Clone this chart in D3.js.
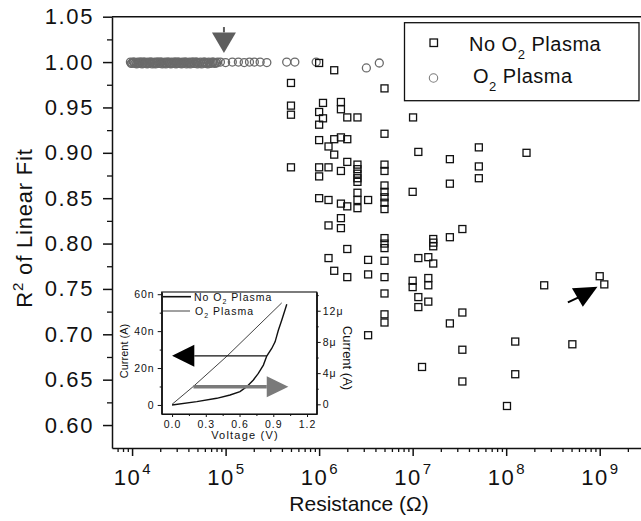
<!DOCTYPE html>
<html>
<head>
<meta charset="utf-8">
<script src="https://cdn.jsdelivr.net/npm/d3@7"></script>
<style>
body { margin:0; background:#fff; }
svg text { font-family: "Liberation Sans", Arial, sans-serif; fill:#111; }
</style>
</head>
<body>
<div class="container"></div>
<script>
// ---- main scatter data: [resistance (ohm), R^2 of linear fit]
var noPlasma = [
  [5e5,0.977],[5e5,0.952],[5e5,0.942],[5e5,0.884],
  [1e6,0.999],[1e6,0.945],[1e6,0.931],[1e6,0.914],[1e6,0.884],[1e6,0.874],[1e6,0.850],
  [1.1e6,0.955],[1.1e6,0.938],
  [1.26e6,0.907],[1.26e6,0.884],[1.26e6,0.848],[1.26e6,0.820],[1.26e6,0.784],
  [1.45e6,0.991],[1.45e6,0.915],[1.45e6,0.898],[1.45e6,0.770],
  [1.71e6,0.956],[1.71e6,0.948],[1.71e6,0.917],[1.71e6,0.880],[1.71e6,0.844],[1.71e6,0.828],[1.71e6,0.817],
  [2e6,0.939],[2e6,0.915],[2e6,0.890],[2e6,0.841],[2e6,0.794],[2e6,0.763],
  [2.57e6,0.939],[2.57e6,0.887],[2.57e6,0.882],[2.57e6,0.877],[2.57e6,0.872],[2.57e6,0.868],[2.57e6,0.856],[2.57e6,0.848],[2.57e6,0.839],
  [3.34e6,0.848],[3.34e6,0.782],[3.34e6,0.766],[3.34e6,0.699],
  [5e6,0.971],[5e6,0.921],[5e6,0.887],[5e6,0.880],[5e6,0.864],[5e6,0.857],[5e6,0.851],[5e6,0.845],[5e6,0.838],
  [5e6,0.806],[5e6,0.800],[5e6,0.795],[5e6,0.781],[5e6,0.763],[5e6,0.745],[5e6,0.722],[5e6,0.713],
  [1.01e7,0.939],[1.15e7,0.901],[2.5e7,0.893],[5.1e7,0.906],[1.65e8,0.900],[5.1e7,0.885],[5.1e7,0.872],
  [2.5e7,0.866],[1e7,0.857],[3.4e7,0.816],[2.5e7,0.807],[1.66e7,0.805],[1.66e7,0.801],[1.66e7,0.797],
  [1.15e7,0.784],[1.47e7,0.785],[1.66e7,0.778],[1e7,0.759],[1e7,0.752],[1.47e7,0.762],[1.47e7,0.754],
  [1.15e7,0.741],[1.15e7,0.730],[1.47e7,0.736],[2.55e8,0.754],[1e9,0.764],[1.12e9,0.755],[3.4e7,0.724],
  [2.5e7,0.712],[1.25e8,0.692],[5.1e8,0.689],[3.4e7,0.683],[1.26e7,0.664],[1.25e8,0.656],[3.4e7,0.648],
  [1.02e8,0.621]
];
var withPlasma = [
  [9.6e3,1.0],[9.8e3,0.9985],[1.0e4,0.999],[1.03e4,1.0],[1.05e4,1.0],[1.07e4,0.9985],[1.1e4,0.9995],
  [1.12e4,0.998],[1.15e4,1.0],[1.17e4,0.9985],[1.2e4,0.999],[1.22e4,1.0],[1.25e4,1.0],[1.28e4,0.998],
  [1.3e4,0.9985],[1.33e4,1.0],[1.36e4,1.0],[1.39e4,0.9985],[1.42e4,0.9995],[1.45e4,0.998],[1.48e4,1.0],
  [1.52e4,0.9985],[1.55e4,0.999],[1.58e4,1.0],[1.6e4,1.0],[1.64e4,0.998],[1.68e4,0.9995],[1.72e4,0.9985],
  [1.75e4,1.0],[1.78e4,0.998],[1.82e4,0.999],[1.86e4,1.0],[1.9e4,1.0],[1.94e4,0.9985],[1.98e4,0.9985],
  [2.02e4,1.0],[2.05e4,1.0],[2.1e4,0.998],[2.15e4,0.9995],[2.2e4,0.9985],[2.25e4,1.0],[2.3e4,0.998],
  [2.35e4,0.999],[2.4e4,1.0],[2.45e4,1.0],[2.5e4,0.9985],[2.55e4,0.9995],[2.6e4,0.998],[2.65e4,1.0],
  [2.72e4,0.9985],[2.8e4,0.999],[2.85e4,1.0],[2.9e4,1.0],[2.95e4,0.998],[3.0e4,0.9985],[3.08e4,1.0],
  [3.15e4,1.0],[3.22e4,0.9985],[3.3e4,0.9995],[3.38e4,0.998],[3.45e4,1.0],[3.52e4,0.9985],[3.6e4,0.999],
  [3.68e4,1.0],[3.75e4,1.0],[3.82e4,0.998],[3.9e4,0.9995],[4.0e4,0.9985],[4.1e4,1.0],[4.2e4,0.998],
  [4.3e4,0.999],[4.4e4,1.0],[4.5e4,1.0],[4.6e4,0.9985],[4.7e4,0.9985],[4.8e4,1.0],[4.9e4,1.0],
  [5.0e4,0.998],[5.1e4,0.9995],[5.25e4,0.9985],[5.4e4,1.0],[5.55e4,0.998],[5.7e4,0.999],[5.85e4,1.0],
  [6.0e4,1.0],[6.15e4,0.9985],[6.3e4,0.9995],[6.45e4,0.998],[6.6e4,1.0],[6.8e4,0.9985],[7.0e4,0.999],
  [7.2e4,1.0],[7.4e4,1.0],[7.6e4,0.9985],[7.8e4,0.9995],[8.0e4,0.999],[8.2e4,1.0],
  [8.8e4,1.0],[1.0e5,0.9995],[1.18e5,1.0],[1.37e5,1.0],[1.58e5,0.9995],[1.8e5,1.0],[2.03e5,1.0],
  [2.34e5,1.0],[2.76e5,0.9995],[4.5e5,1.0],[5.5e5,1.0],[9.3e5,1.0],[3.2e6,0.9935],[4.4e6,0.999]
];
var yTicks = [0.60,0.65,0.70,0.75,0.80,0.85,0.90,0.95,1.00,1.05];
var yMinor = [0.625,0.675,0.725,0.775,0.825,0.875,0.925,0.975,1.025];
var xTickExp = [4,5,6,7,8,9];

// annotation arrows (data units)
var grayArrow = {res:9.6e4, top:1.0386, base:1.0327, tip:1.0099};
var blackArrowHead = [[5.05e8,0.7507],[9.47e8,0.7524],[6.6e8,0.7304]];
var blackArrowTail = [[4.57e8,0.7352],[5.94e8,0.7407]];

// ---- inset data: I-V curves
var noPlasmaIV = [[0,0],[0.22,1.8],[0.397,3.6],[0.516,5.4],[0.604,7.2],[0.664,9.9],[0.723,13.5],
  [0.767,17.1],[0.812,21.6],[0.842,26.5],[0.886,30.6],[0.916,34.2],[0.945,40.5],[0.975,45.9],
  [1.004,51.4],[1.02,54.6]];          // volts, nA (left axis)
var plasmaIV = [[0,0],[0.19,2.3],[0.49,6.2],[0.975,13.0]];   // volts, uA (right axis)
var insetXTicks = [0,0.3,0.6,0.9,1.2];
var insetLeftTicks = [0,20,40,60];
var insetLeftLabels = ["0","20n","40n","60n"];
var insetRightTicks = [0,4,8,12];
var insetRightLabels = ["0","4\u03bc","8\u03bc","12\u03bc"];

//Makes the stage
function makeStage(w, h) {
  return d3.select(".container").append("svg").attr("width", w).attr("height", h);
}

var stage = makeStage(641, 521);

var x = d3.scaleLog().domain([6100, 3.05e9]).range([112, 645]);
var y = d3.scaleLinear().domain([0.5747, 1.05]).range([448, 16.7]);

function styleAxis(g, width) {
  g.attr("font-family", null).attr("font-size", null);
  g.selectAll("path,line").attr("stroke", "#111").attr("stroke-width", width);
}

//draw main axes
function drawAxes() {
  var left = stage.append("g").attr("transform", "translate(112,0)")
    .call(d3.axisLeft(y).tickValues(yTicks).tickSize(9).tickSizeOuter(0).tickPadding(9)
      .tickFormat(d3.format(".2f")));
  styleAxis(left, 1.5);
  left.selectAll("text").style("font-size", "22px").attr("letter-spacing", 1.6);
  var leftMinor = stage.append("g").attr("transform", "translate(112,0)")
    .call(d3.axisLeft(y).tickValues(yMinor).tickSize(5).tickSizeOuter(0).tickFormat(""));
  styleAxis(leftMinor, 1.3);
  leftMinor.select(".domain").remove();

  var minors = [];
  for (var e = 3; e <= 9; e++) {
    for (var m = 2; m <= 9; m++) {
      var v = m * Math.pow(10, e);
      if (v > 6100 && v < 3.05e9) minors.push(v);
    }
  }
  var bottom = stage.append("g").attr("transform", "translate(0,448)")
    .call(d3.axisBottom(x).tickValues(xTickExp.map(function(d){ return Math.pow(10, d); }))
      .tickSize(8).tickSizeOuter(0).tickFormat(""));
  styleAxis(bottom, 1.5);
  var bottomMinor = stage.append("g").attr("transform", "translate(0,448)")
    .call(d3.axisBottom(x).tickValues(minors).tickSize(4).tickSizeOuter(0).tickFormat(""));
  styleAxis(bottomMinor, 1.3);
  bottomMinor.select(".domain").remove();

  // top frame
  stage.append("line")
    .attr("x1", x(6100)).attr("x2", x(3.05e9))
    .attr("y1", y(1.05)).attr("y2", y(1.05))
    .attr("stroke", "#111").attr("stroke-width", 1.5);

  // decade labels 10^n
  var labs = stage.selectAll(".xlab").data(xTickExp).enter().append("text")
    .attr("class", "xlab")
    .attr("x", function(d){ return x(Math.pow(10, d)); })
    .attr("y", 485)
    .attr("text-anchor", "middle");
  labs.append("tspan").style("font-size", "22px").attr("letter-spacing", 1.5).text("10");
  labs.append("tspan").style("font-size", "15px").attr("dy", -11).attr("dx", 1)
    .text(function(d){ return d; });

  stage.append("text").attr("x", 359).attr("y", 511).attr("text-anchor", "middle")
    .style("font-size", "21px").text("Resistance (\u03a9)");

  var yt = stage.append("text").attr("transform", "translate(32,228) rotate(-90)")
    .attr("text-anchor", "middle").style("font-size", "22px").attr("letter-spacing", 0.8);
  yt.append("tspan").text("R");
  yt.append("tspan").style("font-size", "15px").attr("dy", -9).text("2");
  yt.append("tspan").attr("dy", 9).text(" of Linear Fit");
}

//draw the scatter points
function drawPoints() {
  stage.selectAll(".plasma").data(withPlasma).enter().append("circle")
    .attr("class", "plasma")
    .attr("cx", function(d){ return x(d[0]); })
    .attr("cy", function(d){ return y(d[1]); })
    .attr("r", 4)
    .attr("fill", "none").attr("stroke", "#6a6a6a").attr("stroke-width", 1.3);

  stage.selectAll(".noplasma").data(noPlasma).enter().append("rect")
    .attr("class", "noplasma")
    .attr("x", function(d){ return x(d[0]) - 3.5; })
    .attr("y", function(d){ return y(d[1]) - 3.5; })
    .attr("width", 7).attr("height", 7)
    .attr("fill", "none").attr("stroke", "#111").attr("stroke-width", 1.3);
}

function drawArrows() {
  var ax = x(grayArrow.res);
  stage.append("line").attr("x1", ax).attr("x2", ax)
    .attr("y1", y(grayArrow.top)).attr("y2", y(grayArrow.base))
    .attr("stroke", "#5e5e5e").attr("stroke-width", 2);
  stage.append("polygon")
    .attr("points", [[ax - 12, y(grayArrow.base)], [ax + 12, y(grayArrow.base)], [ax, y(grayArrow.tip)]].join(" "))
    .attr("fill", "#5e5e5e");

  stage.append("polygon")
    .attr("points", blackArrowHead.map(function(d){ return [x(d[0]), y(d[1])]; }).join(" "))
    .attr("fill", "#000");
  stage.append("line")
    .attr("x1", x(blackArrowTail[0][0])).attr("y1", y(blackArrowTail[0][1]))
    .attr("x2", x(blackArrowTail[1][0])).attr("y2", y(blackArrowTail[1][1]))
    .attr("stroke", "#000").attr("stroke-width", 2);
}

function drawLegend() {
  var g = stage.append("g");
  g.append("rect").attr("x", 404.5).attr("y", 22.7).attr("width", 234.5).attr("height", 78)
    .attr("fill", "#fff").attr("stroke", "#111").attr("stroke-width", 1.3);
  g.append("rect").attr("x", 430).attr("y", 39).attr("width", 7.5).attr("height", 7.5)
    .attr("fill", "none").attr("stroke", "#111").attr("stroke-width", 1.3);
  g.append("circle").attr("cx", 433.5).attr("cy", 78).attr("r", 4.2)
    .attr("fill", "none").attr("stroke", "#7d7d7d").attr("stroke-width", 1.1);
  var t1 = g.append("text").attr("x", 469).attr("y", 51).style("font-size", "20px").attr("letter-spacing", 0.5);
  t1.append("tspan").text("No O");
  t1.append("tspan").style("font-size", "13px").attr("dy", 8).text("2");
  t1.append("tspan").attr("dy", -8).text(" Plasma");
  var t2 = g.append("text").attr("x", 473).attr("y", 83).style("font-size", "20px").attr("letter-spacing", 0.5);
  t2.append("tspan").text("O");
  t2.append("tspan").style("font-size", "13px").attr("dy", 8).text("2");
  t2.append("tspan").attr("dy", -8).text(" Plasma");
}

//draw the inset I-V plot
function drawInset() {
  var ix = d3.scaleLinear().domain([-0.092, 1.286]).range([161.7, 316.7]);
  var iyL = d3.scaleLinear().domain([-4.9, 61.2]).range([414, 292]);
  var iyR = d3.scaleLinear().domain([-1.24, 14.4]).range([414, 292]);
  var g = stage.append("g");

  g.append("rect").attr("x", 161.7).attr("y", 292).attr("width", 155).attr("height", 122)
    .attr("fill", "#fff").attr("stroke", "#111").attr("stroke-width", 1.1);

  var la = g.append("g").attr("transform", "translate(161.7,0)")
    .call(d3.axisLeft(iyL).tickValues(insetLeftTicks).tickSize(4).tickSizeOuter(0).tickPadding(3)
      .tickFormat(function(d, i){ return insetLeftLabels[i]; }));
  var laM = g.append("g").attr("transform", "translate(161.7,0)")
    .call(d3.axisLeft(iyL).tickValues([10,30,50]).tickSize(2).tickSizeOuter(0).tickFormat(""));
  var ra = g.append("g").attr("transform", "translate(316.7,0)")
    .call(d3.axisRight(iyR).tickValues(insetRightTicks).tickSize(4).tickSizeOuter(0).tickPadding(2)
      .tickFormat(function(d, i){ return insetRightLabels[i]; }));
  var raM = g.append("g").attr("transform", "translate(316.7,0)")
    .call(d3.axisRight(iyR).tickValues([2,6,10,14]).tickSize(2).tickSizeOuter(0).tickFormat(""));
  var ba = g.append("g").attr("transform", "translate(0,414)")
    .call(d3.axisBottom(ix).tickValues(insetXTicks).tickSize(3).tickSizeOuter(0).tickPadding(4)
      .tickFormat(d3.format(".1f")));
  var baM = g.append("g").attr("transform", "translate(0,414)")
    .call(d3.axisBottom(ix).tickValues([0.15,0.45,0.75,1.05]).tickSize(2).tickSizeOuter(0).tickFormat(""));
  [la, laM, ra, raM, ba, baM].forEach(function(a){
    styleAxis(a, 1);
    a.selectAll("text").style("font-size", "10.5px").attr("letter-spacing", 1);
  });

  var line = d3.line().x(function(d){ return ix(d[0]); });
  g.append("path").datum(noPlasmaIV)
    .attr("d", line.y(function(d){ return iyL(d[1]); }))
    .attr("fill", "none").attr("stroke", "#111").attr("stroke-width", 1.4);
  g.append("path").datum(plasmaIV)
    .attr("d", line.y(function(d){ return iyR(d[1]); }))
    .attr("fill", "none").attr("stroke", "#111").attr("stroke-width", 0.8);

  // arrows pointing to the axis each curve uses
  var by = iyL(26.6);
  g.append("line").attr("x1", ix(0.198)).attr("x2", ix(0.842)).attr("y1", by).attr("y2", by)
    .attr("stroke", "#111").attr("stroke-width", 1.4);
  g.append("polygon").attr("points", [[ix(0.198), by - 11], [ix(0.198), by + 11], [ix(0), by]].join(" "))
    .attr("fill", "#000");
  var gy = iyL(9.9);
  g.append("line").attr("x1", ix(0.19)).attr("x2", ix(0.842)).attr("y1", gy).attr("y2", gy)
    .attr("stroke", "#7a7a7a").attr("stroke-width", 3.5);
  g.append("polygon").attr("points", [[ix(0.842), gy - 10.5], [ix(0.842), gy + 10.5], [ix(1.034), gy]].join(" "))
    .attr("fill", "#7a7a7a");

  // inset legend
  g.append("line").attr("x1", 163).attr("x2", 191).attr("y1", 296.7).attr("y2", 296.7)
    .attr("stroke", "#111").attr("stroke-width", 1.6);
  g.append("line").attr("x1", 163).attr("x2", 190).attr("y1", 311).attr("y2", 311)
    .attr("stroke", "#111").attr("stroke-width", 0.8);
  var l1 = g.append("text").attr("x", 194).attr("y", 300.5).style("font-size", "10.5px").attr("letter-spacing", 1);
  l1.append("tspan").text("No O");
  l1.append("tspan").style("font-size", "7px").attr("dy", 3).text("2");
  l1.append("tspan").attr("dy", -3).text(" Plasma");
  var l2 = g.append("text").attr("x", 195).attr("y", 314.5).style("font-size", "10.5px").attr("letter-spacing", 1);
  l2.append("tspan").text("O");
  l2.append("tspan").style("font-size", "7px").attr("dy", 3).text("2");
  l2.append("tspan").attr("dy", -3).text(" Plasma");

  // inset axis titles
  g.append("text").attr("transform", "translate(128,351) rotate(-90)").attr("text-anchor", "middle")
    .style("font-size", "11px").text("Current (A)");
  g.append("text").attr("transform", "translate(343,358) rotate(90)").attr("text-anchor", "middle")
    .style("font-size", "13px").text("Current (A)");
  g.append("text").attr("x", 245).attr("y", 439).attr("text-anchor", "middle")
    .style("font-size", "11px").attr("letter-spacing", 1.2).text("Voltage (V)");
}

drawPoints();
drawArrows();
drawAxes();
drawLegend();
drawInset();
</script>
</body>
</html>
